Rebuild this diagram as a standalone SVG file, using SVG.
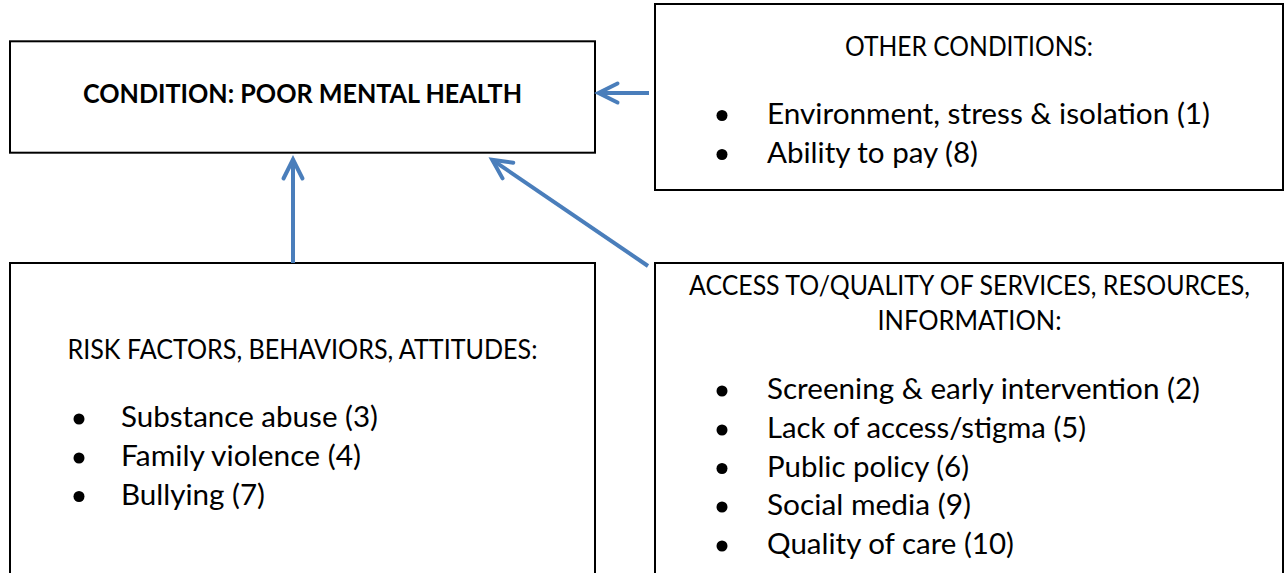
<svg xmlns="http://www.w3.org/2000/svg" width="1286" height="573" viewBox="0 0 1286 573">
<style>
  .box { fill: #ffffff; stroke: #000000; stroke-width: 2; }
  .hd { font-family: Lato, "Liberation Sans", sans-serif; font-size: 26.2px; fill: #000000; }
  .title { font-family: Lato, "Liberation Sans", sans-serif; font-size: 26.2px; font-weight: bold; fill: #000000; }
  .li { font-family: Lato, "Liberation Sans", sans-serif; font-size: 28.4px; fill: #000000; }
  .dot { fill: #000000; }
  .conn { fill: none; stroke: #4A7EBB; stroke-width: 4; }
</style>
<defs>
  <marker id="arrow" markerUnits="userSpaceOnUse" viewBox="-25 -15 30 30" refX="0" refY="0" markerWidth="30" markerHeight="30" orient="auto">
    <path d="M-19,-9.5 L0,0 L-19,9.5" fill="none" stroke="#4A7EBB" stroke-width="4" stroke-linecap="round" stroke-linejoin="miter"/>
  </marker>
</defs>
<rect width="1286" height="573" fill="#ffffff"/>

<g id="node-condition">
  <rect class="box" x="10" y="41.3" width="585" height="111.4"/>
  <text class="title" x="302.5" y="103" text-anchor="middle" textLength="439" lengthAdjust="spacingAndGlyphs">CONDITION: POOR MENTAL HEALTH</text>
</g>

<g id="node-other">
  <rect class="box" x="655" y="4" width="628" height="186"/>
  <text class="hd" x="969" y="56" text-anchor="middle" textLength="248" lengthAdjust="spacingAndGlyphs">OTHER CONDITIONS:</text>
  <circle class="dot" cx="722" cy="115.5" r="5.5"/>
  <text class="li" x="767" y="123.5" textLength="443" lengthAdjust="spacingAndGlyphs">Environment, stress &amp; isolation (1)</text>
  <circle class="dot" cx="722" cy="154.5" r="5.5"/>
  <text class="li" x="767" y="162.5" textLength="211" lengthAdjust="spacingAndGlyphs">Ability to pay (8)</text>
</g>

<g id="node-risk">
  <rect class="box" x="10" y="263" width="585" height="320"/>
  <text class="hd" x="302.5" y="359" text-anchor="middle" textLength="470" lengthAdjust="spacingAndGlyphs">RISK FACTORS, BEHAVIORS, ATTITUDES:</text>
  <circle class="dot" cx="79" cy="419" r="5.5"/>
  <text class="li" x="121" y="427" textLength="257" lengthAdjust="spacingAndGlyphs">Substance abuse (3)</text>
  <circle class="dot" cx="79" cy="458" r="5.5"/>
  <text class="li" x="121" y="466" textLength="240" lengthAdjust="spacingAndGlyphs">Family violence (4)</text>
  <circle class="dot" cx="79" cy="496.5" r="5.5"/>
  <text class="li" x="121" y="504.5" textLength="144" lengthAdjust="spacingAndGlyphs">Bullying (7)</text>
</g>

<g id="node-access">
  <rect class="box" x="655" y="263" width="628" height="320"/>
  <text class="hd" x="969.5" y="295" text-anchor="middle" textLength="561" lengthAdjust="spacingAndGlyphs">ACCESS TO/QUALITY OF SERVICES, RESOURCES,</text>
  <text class="hd" x="969.5" y="330" text-anchor="middle" textLength="184" lengthAdjust="spacingAndGlyphs">INFORMATION:</text>
  <circle class="dot" cx="722" cy="391" r="5.5"/>
  <text class="li" x="767" y="399" textLength="433" lengthAdjust="spacingAndGlyphs">Screening &amp; early intervention (2)</text>
  <circle class="dot" cx="722" cy="430" r="5.5"/>
  <text class="li" x="767" y="438" textLength="319" lengthAdjust="spacingAndGlyphs">Lack of access/stigma (5)</text>
  <circle class="dot" cx="722" cy="468.5" r="5.5"/>
  <text class="li" x="767" y="476.5" textLength="202" lengthAdjust="spacingAndGlyphs">Public policy (6)</text>
  <circle class="dot" cx="722" cy="507" r="5.5"/>
  <text class="li" x="767" y="515" textLength="204" lengthAdjust="spacingAndGlyphs">Social media (9)</text>
  <circle class="dot" cx="722" cy="546" r="5.5"/>
  <text class="li" x="767" y="554" textLength="247" lengthAdjust="spacingAndGlyphs">Quality of care (10)</text>
</g>

<g id="connectors">
  <path class="conn" d="M649,93 L598.5,93" marker-end="url(#arrow)"/>
  <path class="conn" d="M293,263 L293,159.5" marker-end="url(#arrow)"/>
  <path class="conn" d="M648,266 L492.2,159.8" marker-end="url(#arrow)"/>
</g>
</svg>
